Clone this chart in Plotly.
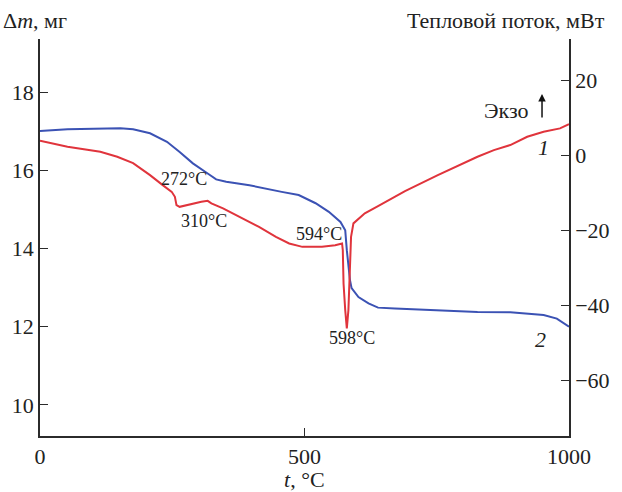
import plotly.graph_objects as go

# Temperature scale, °C
t_mass = [0, 52, 152, 176, 208, 240, 264, 289, 317, 333, 352, 396, 457, 489, 521,
          546, 568, 577, 580, 583, 586, 589, 602, 621, 639, 671, 733, 827, 889,
          921, 952, 977, 1000]
# Curve 2: sample mass, mg (left axis)
mass = [17.01, 17.05, 17.08, 17.05, 16.95, 16.73, 16.47, 16.18, 15.92, 15.77,
        15.71, 15.62, 15.45, 15.37, 15.16, 14.94, 14.68, 14.47, 13.96, 13.50,
        13.19, 12.99, 12.76, 12.60, 12.49, 12.47, 12.44, 12.38, 12.37, 12.34,
        12.30, 12.21, 12.00]

t_heat = [0, 52, 114, 146, 176, 208, 232, 249, 255, 258, 264, 289, 305, 317, 324,
          346, 377, 414, 446, 471, 496, 533, 558, 571, 572.4, 573.8, 577, 580,
          583, 585, 586.3, 588, 592.5, 614, 639, 664, 690, 752, 827, 858, 889,
          921, 952, 983, 1000]
# Curve 1: heat flow, mW (right axis)
heat = [3.81, 2.21, 0.88, -0.45, -2.13, -5.33, -8.0, -9.79, -11.12, -13.33,
        -13.79, -12.88, -12.45, -12.19, -12.88, -14.21, -16.45, -19.12, -21.79,
        -23.55, -24.45, -24.45, -24.0, -23.55, -25.33, -34.2, -41.3, -46.2,
        -41.3, -34.2, -29.8, -21.8, -18.2, -15.5, -13.6, -11.6, -9.6, -5.33,
        -0.45, 1.33, 2.67, 4.88, 6.21, 7.12, 8.27]

x_ticks = [0, 500, 1000]
mass_ticks = [10, 12, 14, 16, 18]
heat_ticks = [-60, -40, -20, 0, 20]

# Peak labels: (text, temperature, mass-axis position)
peak_labels = [("272°C", 272, 15.77), ("310°C", 310, 14.70),
               ("594°C", 527, 14.37), ("598°C", 589, 11.71)]

FONT = "Liberation Serif"
AXIS_COLOR = "#2b2b2b"
BLUE = "#3b52b4"
RED = "#e0343c"

fig = go.Figure()
fig.add_trace(go.Scatter(x=t_mass, y=mass, mode="lines",
                         line=dict(color=BLUE, width=2), yaxis="y",
                         showlegend=False, hoverinfo="skip"))
fig.add_trace(go.Scatter(x=t_heat, y=heat, mode="lines",
                         line=dict(color=RED, width=2), yaxis="y2",
                         showlegend=False, hoverinfo="skip"))

axis_common = dict(showline=True, linecolor=AXIS_COLOR, linewidth=1.5,
                   showgrid=False, zeroline=False, ticks="inside",
                   tickcolor=AXIS_COLOR, tickwidth=1.2, ticklen=8,
                   tickfont=dict(family=FONT, size=22, color="#222"))

fig.update_layout(
    width=622, height=492,
    margin=dict(l=39, r=50, t=39, b=56),
    paper_bgcolor="white", plot_bgcolor="white",
    font=dict(family=FONT, color="#222"),
    xaxis=dict(range=[0, 1000], tickvals=x_ticks, **axis_common),
    yaxis=dict(range=[9.207, 19.36], tickvals=mass_ticks, **axis_common),
    yaxis2=dict(range=[-74.85, 30.93], tickvals=heat_ticks, overlaying="y",
                side="right", **axis_common),
)

ann = []
# Axis titles
ann.append(dict(text="Δ<i>m</i>, мг", xref="paper", yref="paper",
                x=-39 / 533, y=(436 - 21) / 397, xanchor="left", yanchor="middle",
                showarrow=False, font=dict(family=FONT, size=22, color="#222")))
ann.append(dict(text="Тепловой поток, мВт", xref="paper", yref="paper",
                x=(610 - 39) / 533, y=(436 - 21) / 397, xanchor="right",
                yanchor="middle", showarrow=False,
                font=dict(family=FONT, size=22, color="#222")))
ann.append(dict(text="<i>t</i>, °C", xref="paper", yref="paper",
                x=0.5, y=(436 - 479) / 397, xanchor="center", yanchor="middle",
                showarrow=False, font=dict(family=FONT, size=22, color="#222")))
# Peak temperatures
for txt, tx, ty in peak_labels:
    ann.append(dict(text=txt, x=tx, y=ty, xref="x", yref="y", showarrow=False,
                    font=dict(family=FONT, size=18, color="#222")))
# Curve numbers
ann.append(dict(text="<i>1</i>", x=952, y=1.9, xref="x", yref="y2",
                showarrow=False, font=dict(family=FONT, size=22, color="#222")))
ann.append(dict(text="<i>2</i>", x=947, y=11.67, xref="x", yref="y",
                showarrow=False, font=dict(family=FONT, size=22, color="#222")))
# Exothermic direction marker
ann.append(dict(text="Экзо", x=880, y=11.8, xref="x", yref="y2",
                showarrow=False, font=dict(family=FONT, size=22, color="#222")))
ann.append(dict(text="", x=949, y=16.3, xref="x", yref="y2",
                ax=949, ay=9.6, axref="x", ayref="y2", showarrow=True,
                arrowhead=2, arrowsize=1, arrowwidth=1.5, arrowcolor="#111"))
fig.update_layout(annotations=ann)

fig.write_html("out.html")
